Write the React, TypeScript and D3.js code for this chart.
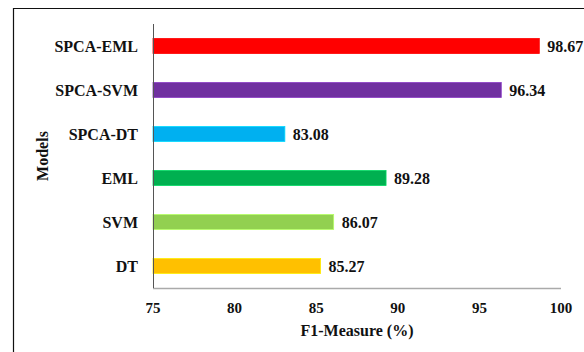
import React from "react";
import * as d3 from "d3";

const categories = ["SPCA-EML", "SPCA-SVM", "SPCA-DT", "EML", "SVM", "DT"];
const values = [98.67, 96.34, 83.08, 89.28, 86.07, 85.27];
const colors = ["#FF0000", "#7030A0", "#00B0F0", "#00B050", "#92D050", "#FFC000"];
const xTicks = [75, 80, 85, 90, 95, 100];
const xTitle = "F1-Measure (%)";
const yTitle = "Models";

const W = 584;
const H = 352;
const left = 153;
const right = 561;
const top = 24;
const bottom = 288;
const font = "'Liberation Serif', 'Times New Roman', serif";

export default function App() {
  const x = d3.scaleLinear().domain([75, 100]).range([left, right]);
  const y = d3.scaleBand<string>().domain(categories).range([top, bottom]).paddingInner(0.66).paddingOuter(0.33);
  return (
    <svg width={W} height={H} style={{ position: "absolute", left: 0, top: 0 }}>
      <rect x={0} y={0} width={W} height={H} fill="#fff" />
      <path d={`M13.5,${H} V8.5 H${W}`} fill="none" stroke="#111" strokeWidth={1.2} />
      {categories.map((c, i) => (
        <g key={c}>
          <rect
            x={x(75)}
            y={y(c)!}
            width={x(values[i]) - x(75)}
            height={y.bandwidth()}
            fill={colors[i]}
            stroke={d3.color(colors[i])!.brighter(0.6).formatHex()}
            strokeWidth={0.8}
          />
          <text
            x={x(values[i]) + 8}
            y={y(c)! + y.bandwidth() / 2}
            dy="0.35em"
            fontFamily={font}
            fontWeight="bold"
            fontSize={16}
            fill="#111"
          >
            {values[i].toFixed(2)}
          </text>
          <text
            x={left - 15}
            y={y(c)! + y.bandwidth() / 2}
            dy="0.35em"
            textAnchor="end"
            fontFamily={font}
            fontWeight="bold"
            fontSize={16}
            fill="#111"
          >
            {c}
          </text>
        </g>
      ))}
      <line x1={left} x2={right} y1={bottom + 0.5} y2={bottom + 0.5} stroke="#aaa" strokeWidth={1.5} />
      <line x1={left + 0.5} x2={left + 0.5} y1={top} y2={bottom} stroke="#555" strokeWidth={1} />
      {xTicks.map((t) => (
        <text
          key={t}
          x={x(t)}
          y={308}
          dy="0.35em"
          textAnchor="middle"
          fontFamily={font}
          fontWeight="bold"
          fontSize={15}
          fill="#111"
        >
          {t}
        </text>
      ))}
      <text
        x={(left + right) / 2}
        y={330}
        dy="0.35em"
        textAnchor="middle"
        fontFamily={font}
        fontWeight="bold"
        fontSize={16}
        fill="#111"
      >
        {xTitle}
      </text>
      <text
        transform={`translate(42,${(top + bottom) / 2}) rotate(-90)`}
        dy="0.35em"
        textAnchor="middle"
        fontFamily={font}
        fontWeight="bold"
        fontSize={16}
        fill="#111"
      >
        {yTitle}
      </text>
    </svg>
  );
}
